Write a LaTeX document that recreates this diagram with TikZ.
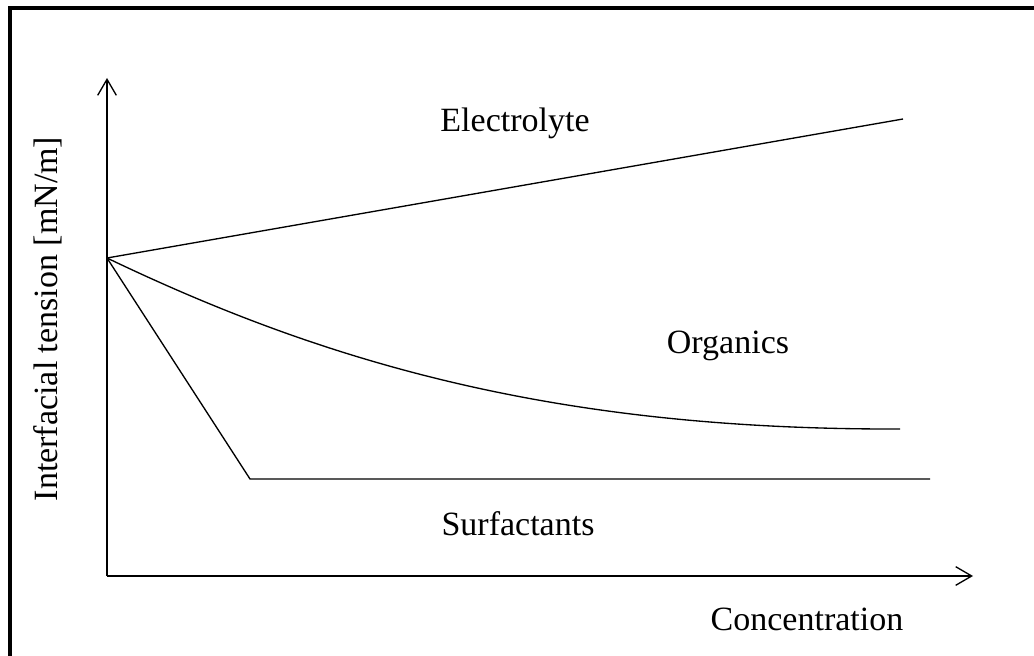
\documentclass[tikz,border=0pt]{standalone}
\usepackage{fontspec}
\setmainfont{Liberation Serif}
\usetikzlibrary{arrows.meta, positioning}
\tikzset{
  axis/.style={line width=1pt, -{Straight Barb[length=12pt,width=14pt,line width=1pt]}},
  curve/.style={line width=1pt},
  lbl/.style={font=\fontsize{25.5}{30}\selectfont, anchor=base, inner sep=0pt},
}
\begin{document}
\begin{tikzpicture}[x=0.75pt,y=-0.75pt]
        \useasboundingbox (0,0) rectangle (1034,656);

        % Frame, top and left side only
        \draw[line width=3pt] (9.5,656) -- (9.5,8) -- (1034,8);

        % Draw the axes
        \coordinate (origin) at (107,576);
        \coordinate (ytop) at (107,78);
        \coordinate (xend) at (973,576);
        \draw[axis] (origin) -- (ytop);
        \draw[axis] (origin) -- (xend);

        % Draw the three curves from the common start
        \coordinate (start) at (107,258);
        \coordinate (elend) at (903,119);
        \coordinate (orgend) at (900,429);
        \coordinate (knee) at (250,479);
        \coordinate (sfend) at (930,479);
        \draw[curve] (start) -- (elend);
        \draw[curve] (start) .. controls (330,365) and (560,430) .. (orgend);
        \draw[curve] (start) -- (knee) -- (sfend);

        % Add text
        \node[lbl] (electrolyte) at (515,132) {Electrolyte};
        \node[lbl] (organics) at (728,353) {Organics};
        \node[lbl] (surfactants) at (518,535) {Surfactants};
        \node[lbl] (concentration) at (807,630) {Concentration};
        \node[lbl, rotate=90] (tension) at (57,319) {Interfacial tension [mN/m]};
    \end{tikzpicture}
\end{document}
